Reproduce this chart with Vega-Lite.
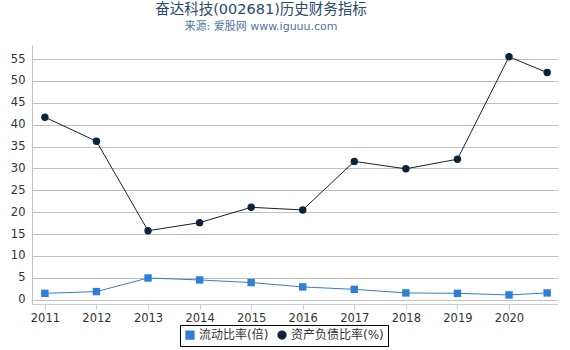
{
  "$schema": "https://vega.github.io/schema/vega-lite/v6.json",
  "width": 526,
  "height": 259,
  "autosize": {"type": "none"},
  "padding": {"left": 32, "top": 45, "right": 12, "bottom": 46},
  "background": "white",
  "config": {
    "font": "DejaVu Sans, Noto Sans CJK SC",
    "view": {"stroke": null}
  },
  "title": {
    "text": "奋达科技(002681)历史财务指标",
    "subtitle": "来源: 爱股网 www.iguuu.com",
    "anchor": "middle",
    "dx": -34,
    "offset": 12,
    "fontSize": 14.5,
    "fontWeight": "normal",
    "color": "#274b6d",
    "subtitleFontSize": 11,
    "subtitleColor": "#4d759e",
    "subtitlePadding": 4,
    "font": "DejaVu Sans, Noto Sans CJK SC",
    "subtitleFont": "DejaVu Sans, Noto Sans CJK SC"
  },
  "data": {
    "values": [
      {"year": 2011, "series": "流动比率(倍)", "value": 1.44},
      {"year": 2012, "series": "流动比率(倍)", "value": 1.83},
      {"year": 2013, "series": "流动比率(倍)", "value": 4.95},
      {"year": 2014, "series": "流动比率(倍)", "value": 4.5},
      {"year": 2015, "series": "流动比率(倍)", "value": 3.9},
      {"year": 2016, "series": "流动比率(倍)", "value": 2.9},
      {"year": 2017, "series": "流动比率(倍)", "value": 2.35},
      {"year": 2018, "series": "流动比率(倍)", "value": 1.53},
      {"year": 2019, "series": "流动比率(倍)", "value": 1.44},
      {"year": 2020, "series": "流动比率(倍)", "value": 1.07},
      {"year": 2020.74, "series": "流动比率(倍)", "value": 1.53},
      {"year": 2011, "series": "资产负债比率(%)", "value": 41.7},
      {"year": 2012, "series": "资产负债比率(%)", "value": 36.2},
      {"year": 2013, "series": "资产负债比率(%)", "value": 15.75},
      {"year": 2014, "series": "资产负债比率(%)", "value": 17.6},
      {"year": 2015, "series": "资产负债比率(%)", "value": 21.1},
      {"year": 2016, "series": "资产负债比率(%)", "value": 20.5},
      {"year": 2017, "series": "资产负债比率(%)", "value": 31.6},
      {"year": 2018, "series": "资产负债比率(%)", "value": 29.9},
      {"year": 2019, "series": "资产负债比率(%)", "value": 32.1},
      {"year": 2020, "series": "资产负债比率(%)", "value": 55.5},
      {"year": 2020.74, "series": "资产负债比率(%)", "value": 51.9}
    ]
  },
  "encoding": {
    "x": {
      "field": "year",
      "type": "quantitative",
      "scale": {"domain": [2010.75, 2020.95], "nice": false, "zero": false},
      "axis": {
        "title": null,
        "values": [2011, 2012, 2013, 2014, 2015, 2016, 2017, 2018, 2019, 2020],
        "format": "d",
        "grid": false,
        "domainColor": "#c0d0e0",
        "tickColor": "#c0d0e0",
        "tickSize": 5,
        "labelFontSize": 11.5,
        "labelColor": "#333333",
        "labelPadding": 3
      }
    },
    "y": {
      "field": "value",
      "type": "quantitative",
      "scale": {"domain": [-1, 58.2], "nice": false, "zero": false},
      "axis": {
        "title": null,
        "values": [0, 5, 10, 15, 20, 25, 30, 35, 40, 45, 50, 55],
        "grid": true,
        "gridColor": "#c0c0c0",
        "domainColor": "#c0c0c0",
        "ticks": false,
        "labelFontSize": 11.5,
        "labelColor": "#333333",
        "labelPadding": 7
      }
    },
    "color": {
      "field": "series",
      "type": "nominal",
      "scale": {"domain": ["流动比率(倍)", "资产负债比率(%)"], "range": ["#2f7ed8", "#0d233a"]},
      "legend": {
        "title": null,
        "orient": "none",
        "legendX": 148,
        "legendY": 280,
        "direction": "horizontal",
        "strokeColor": "#000000",
        "padding": 4,
        "labelFontSize": 12,
        "labelColor": "#333333",
        "symbolSize": 60,
        "columnPadding": 6,
        "labelOffset": 3
      }
    }
  },
  "layer": [
    {
      "mark": {"type": "line", "strokeWidth": 1}
    },
    {
      "mark": {"type": "point", "filled": true, "opacity": 1, "size": 55},
      "encoding": {
        "shape": {
          "field": "series",
          "type": "nominal",
          "scale": {"domain": ["流动比率(倍)", "资产负债比率(%)"], "range": ["square", "circle"]}
        }
      }
    }
  ]
}
